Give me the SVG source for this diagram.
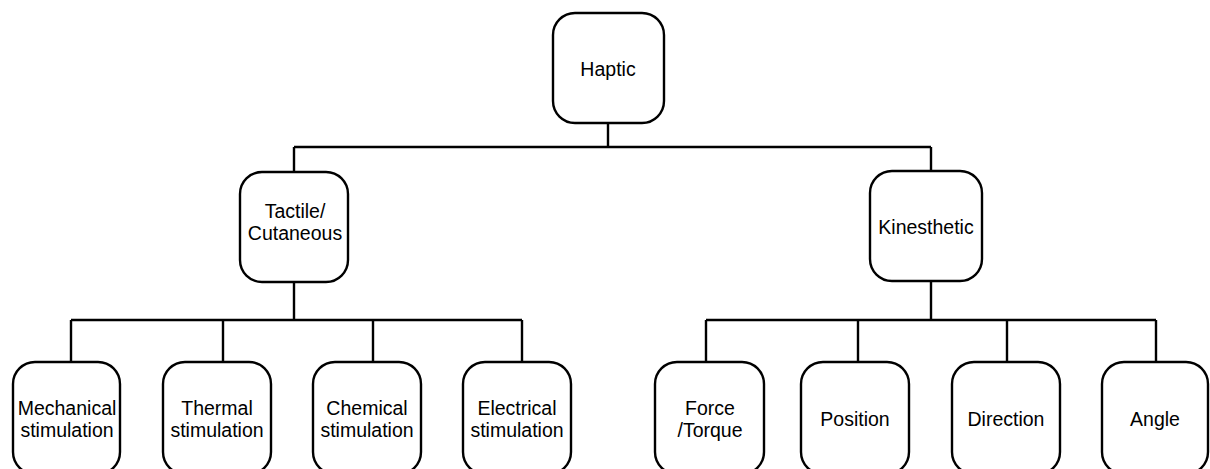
<svg xmlns="http://www.w3.org/2000/svg" width="1210" height="469" viewBox="0 0 1210 469">
<style>
.box{fill:#fff;stroke:#000;stroke-width:2.4}
.c{fill:none;stroke:#000;stroke-width:2.4}
text{font-family:"Liberation Sans",Arial,sans-serif;font-size:19.5px;fill:#000;text-anchor:middle}
</style>
<rect width="1210" height="469" fill="#fff"/>
<g id="connectors">
<path class="c" d="M608 123V147M294 147H931M294 147V172M931 147V171"/>
<path class="c" d="M294 282V320M71 320H522M71 320V362M223 320V362M373 320V362M522 320V362"/>
<path class="c" d="M931 281V320M706 320H1156M706 320V362M858 320V362M1007 320V362M1156 320V362"/>
</g>
<g id="haptic"><rect class="box" x="553" y="13" width="111" height="110" rx="22"/><text x="608" y="76">Haptic</text></g>
<g id="tactile"><rect class="box" x="240" y="172" width="108" height="110" rx="22"/><text x="295" y="218">Tactile/</text><text x="295" y="240">Cutaneous</text></g>
<g id="kinesthetic"><rect class="box" x="870" y="171" width="112" height="110" rx="22"/><text x="926" y="234">Kinesthetic</text></g>
<g id="mechanical"><rect class="box" x="13" y="362" width="107" height="112" rx="22"/><text x="67" y="415">Mechanical</text><text x="67" y="437">stimulation</text></g>
<g id="thermal"><rect class="box" x="163" y="362" width="108" height="112" rx="22"/><text x="217" y="415">Thermal</text><text x="217" y="437">stimulation</text></g>
<g id="chemical"><rect class="box" x="313" y="362" width="108" height="112" rx="22"/><text x="367" y="415">Chemical</text><text x="367" y="437">stimulation</text></g>
<g id="electrical"><rect class="box" x="463" y="362" width="108" height="112" rx="22"/><text x="517" y="415">Electrical</text><text x="517" y="437">stimulation</text></g>
<g id="force"><rect class="box" x="655" y="362" width="109" height="112" rx="22"/><text x="710" y="415">Force</text><text x="710" y="437">/Torque</text></g>
<g id="position"><rect class="box" x="801" y="362" width="108" height="112" rx="22"/><text x="855" y="426">Position</text></g>
<g id="direction"><rect class="box" x="952" y="362" width="108" height="112" rx="22"/><text x="1006" y="426">Direction</text></g>
<g id="angle"><rect class="box" x="1102" y="362" width="106" height="112" rx="22"/><text x="1155" y="426">Angle</text></g>
</svg>
